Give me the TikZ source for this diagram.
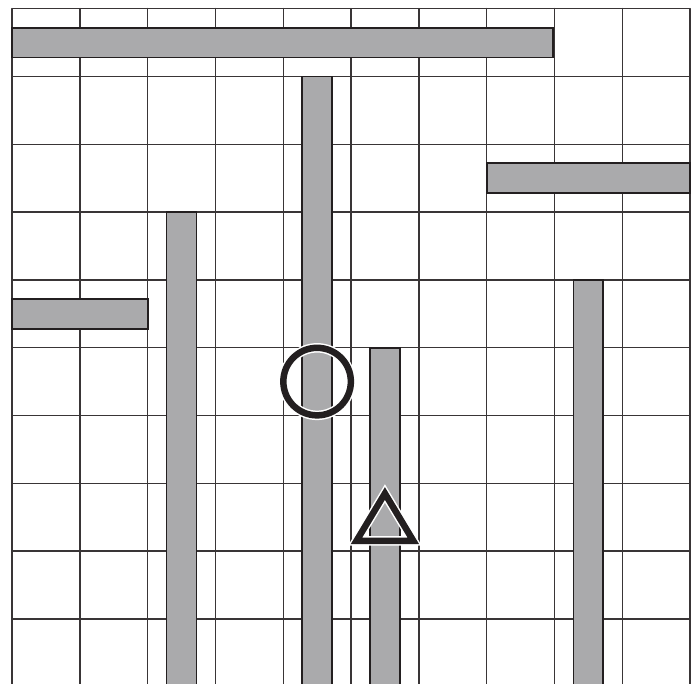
\documentclass[tikz,border=0pt]{standalone}
\definecolor{barfill}{RGB}{170,170,172}
\definecolor{inkdark}{RGB}{35,31,32}
\begin{document}
\begin{tikzpicture}[x=67.8pt, y=-67.8pt, line join=round, line cap=round,
    gridline/.style={line width=1.4pt, draw=inkdark!90},
    bar/.style={fill=barfill, draw=inkdark, line width=1.8pt, line join=miter},
    halo/.style={line width=9.5pt, draw=white, line join=miter},
    symbol/.style={line width=6.5pt, draw=inkdark, line join=miter}]
    \path
    (-0.177,-0.128) coordinate (TL)
    (10.103,9.96) coordinate (BR)
    (4.5,5.5) coordinate (O)
    (5.5,7.15) coordinate (T1)
    (5.08,7.85) coordinate (T2)
    (5.92,7.85) coordinate (T3)
    ;
    \clip (TL) rectangle (BR);
    \fill[white] (TL) rectangle (BR);
    \foreach \i in {0,...,10}{
        \draw[gridline] (\i,0) -- (\i,10.5);
        \draw[gridline] (0,\i) -- (10,\i);
    }
    
    \foreach \xa/\ya/\xb/\yb in {0/0.28/7.98/0.72, 7/2.28/10/2.72, 0/4.28/2/4.72,
        4.28/1/4.72/10.5, 2.28/3/2.72/10.5, 5.28/5/5.72/10.5, 8.28/4/8.72/10.5}{
        \draw[bar] (\xa,\ya) rectangle (\xb,\yb);
    }
    
    \draw[halo] (O) circle (0.498);
    \draw[symbol] (O) circle (0.498);
    \draw[halo] (T1)--(T2)--(T3)--cycle;
    \draw[symbol] (T1)--(T2)--(T3)--cycle;
\end{tikzpicture}
\end{document}
